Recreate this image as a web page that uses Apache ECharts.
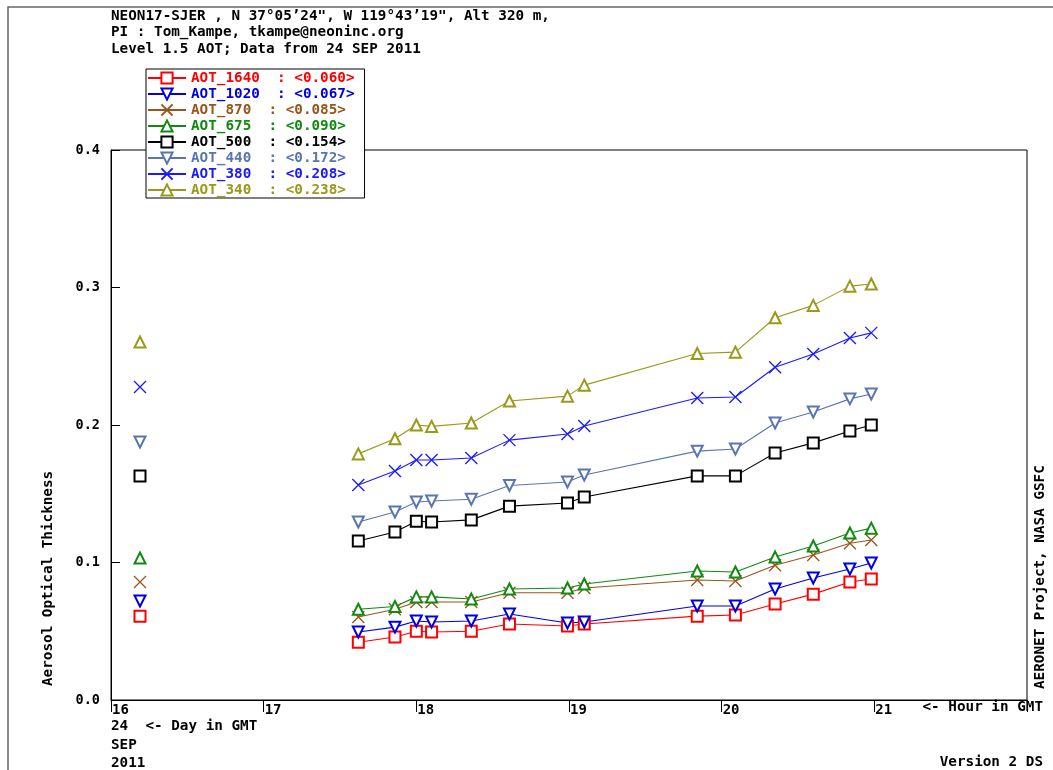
<!DOCTYPE html>
<html>
<head>
<meta charset="utf-8">
<script src="https://cdn.jsdelivr.net/npm/echarts@6/dist/echarts.min.js"></script>
<style>
html,body{margin:0;padding:0;background:#fff;}
#chart{width:1053px;height:770px;}
</style>
</head>
<body>
<div id="chart"></div>
<script>
// ---- data ----
const hours = [16.19, 17.62, 17.86, 18.00, 18.10, 18.36, 18.61, 18.99, 19.10, 19.84, 20.09, 20.35, 20.60, 20.84, 20.98];
const BREAK_AFTER = 0; // the first measurement is not joined to the rest

const seriesNames = ['AOT_1640', 'AOT_1020', 'AOT_870', 'AOT_675', 'AOT_500', 'AOT_440', 'AOT_380', 'AOT_340'];
const seriesMeans = ['0.060', '0.067', '0.085', '0.090', '0.154', '0.172', '0.208', '0.238'];

const aot1640 = [0.061, 0.042, 0.0458, 0.050, 0.0495, 0.050, 0.0553, 0.0538, 0.0553, 0.061, 0.0618, 0.0698, 0.077, 0.0858, 0.088];
const aot1020 = [0.072, 0.0495, 0.053, 0.0575, 0.0567, 0.0575, 0.0625, 0.056, 0.0567, 0.0684, 0.0684, 0.0807, 0.0887, 0.0953, 0.0996];
const aot870  = [0.0858, 0.0604, 0.066, 0.0713, 0.0713, 0.0713, 0.078, 0.078, 0.0815, 0.0873, 0.0866, 0.098, 0.1055, 0.114, 0.1164];
const aot675  = [0.1033, 0.066, 0.068, 0.075, 0.075, 0.0735, 0.0807, 0.0815, 0.0844, 0.0938, 0.0931, 0.104, 0.112, 0.1215, 0.125];
const aot500  = [0.163, 0.1156, 0.1222, 0.130, 0.1295, 0.131, 0.141, 0.1433, 0.1476, 0.163, 0.163, 0.1796, 0.187, 0.1956, 0.200];
const aot440  = [0.1876, 0.1295, 0.1367, 0.144, 0.1447, 0.146, 0.156, 0.1585, 0.1636, 0.181, 0.1825, 0.2015, 0.2095, 0.219, 0.2225];
const aot380  = [0.2276, 0.1564, 0.1665, 0.1745, 0.1745, 0.176, 0.189, 0.1935, 0.1993, 0.2196, 0.2204, 0.242, 0.2516, 0.2633, 0.267];
const aot340  = [0.2604, 0.179, 0.190, 0.200, 0.199, 0.2015, 0.2175, 0.221, 0.229, 0.252, 0.253, 0.278, 0.287, 0.301, 0.3025];

const xTickLabels = ['16', '17', '18', '19', '20', '21'];
const yTickLabels = ['0.0', '0.1', '0.2', '0.3', '0.4'];

// ---- styles ----
const allValues = [aot1640, aot1020, aot870, aot675, aot500, aot440, aot380, aot340];
const colors = ['#ff0000', '#0000e0', '#99561c', '#108a10', '#000000', '#5a76ae', '#1a1aff', '#99991a'];
const X_PATH = 'path://M0 0L10 10M10 0L0 10';
const symbols = ['emptyRect', 'emptyTriangle', X_PATH, 'emptyTriangle', 'emptyRect', 'emptyTriangle', X_PATH, 'emptyTriangle'];
const rotates = [0, 180, 0, 0, 0, 180, 0, 0];
const sizes = [11, 11, 12, 11, 11, 11, 12, 11];
const FONT = "'DejaVu Sans Mono', monospace";

function buildData(vals) {
  const out = [];
  vals.forEach((v, i) => {
    out.push([hours[i], v]);
    if (i === BREAK_AFTER) out.push([hours[i] + 0.01, null]);
  });
  return out;
}

const series = seriesNames.map((name, k) => ({
  name: name,
  type: 'line',
  data: buildData(allValues[k]),
  connectNulls: false,
  symbol: symbols[k],
  symbolRotate: rotates[k],
  symbolSize: sizes[k],
  showAllSymbol: true,
  animation: false,
  lineStyle: { color: colors[k], width: 1.1 },
  itemStyle: { color: colors[k], borderColor: colors[k], borderWidth: 1.3 },
  emphasis: { disabled: true }
}));

const txt = (text, x, y, extra) => Object.assign({
  type: 'text', x: x, y: y, silent: true,
  style: Object.assign({ text: text, fill: '#000', font: 'bold 14.3px ' + FONT, textAlign: 'left', textVerticalAlign: 'middle' }, extra || {})
});

const option = {
  animation: false,
  backgroundColor: '#fff',
  grid: { left: 111, top: 150, right: 26, bottom: 70, show: true, borderColor: '#000', borderWidth: 1, backgroundColor: 'transparent' },
  xAxis: {
    type: 'value', min: 16, max: 22, interval: 1,
    axisLine: { show: true, lineStyle: { color: '#000', width: 1 } },
    axisTick: { show: true, inside: false, length: 12, lineStyle: { color: '#000' } },
    splitLine: { show: false },
    axisLabel: {
      formatter: v => { const i = Math.round(v) - 16; return i < xTickLabels.length ? xTickLabels[i] : ''; },
      align: 'left', verticalAlign: 'top', margin: 3, padding: [0, 0, 0, 1],
      color: '#000', fontFamily: FONT, fontWeight: 'bold', fontSize: 14
    }
  },
  yAxis: {
    type: 'value', min: 0, max: 0.4, interval: 0.1,
    axisLine: { show: true, lineStyle: { color: '#000', width: 1 } },
    axisTick: { show: true, inside: true, length: 9, lineStyle: { color: '#000' } },
    splitLine: { show: false },
    axisLabel: {
      formatter: v => yTickLabels[Math.round(v * 10)],
      margin: 11, color: '#000', fontFamily: FONT, fontWeight: 'bold', fontSize: 13.5
    }
  },
  legend: {
    left: 146, top: 69, orient: 'vertical',
    backgroundColor: '#fff', borderColor: '#000', borderWidth: 1,
    padding: [2, 10, 1, 1],
    itemWidth: 38, itemHeight: 14, itemGap: 2,
    selectedMode: false,
    data: seriesNames.map((n, k) => ({ name: n, textStyle: { color: colors[k] } })),
    formatter: name => { const k = seriesNames.indexOf(name); return name + '  : <' + seriesMeans[k] + '>'; },
    textStyle: { fontFamily: FONT, fontWeight: 'bold', fontSize: 14.3, lineHeight: 14 }
  },
  graphic: [
    { type: 'rect', silent: true, shape: { x: 8, y: 7, width: 1100, height: 800 }, style: { fill: 'none', stroke: '#666', lineWidth: 1.5 }, z: -10 },
    txt('NEON17-SJER , N 37°05’24", W 119°43’19", Alt 320 m,', 111, 16),
    txt('PI : Tom_Kampe, tkampe@neoninc.org', 111, 32.5),
    txt('Level 1.5 AOT; Data from 24 SEP 2011', 111, 49),
    txt('24  <- Day in GMT', 111, 726),
    txt('SEP', 111, 745),
    txt('2011', 111, 763),
    txt('<- Hour in GMT', 1043, 707, { textAlign: 'right' }),
    txt('Version 2 DS', 1043, 762, { textAlign: 'right' }),
    Object.assign(txt('Aerosol Optical Thickness', 48, 686), { rotation: Math.PI / 2 }),
    Object.assign(txt('AERONET Project, NASA GSFC', 1040, 689), { rotation: Math.PI / 2 })
  ],
  series: series
};

const chart = echarts.init(document.getElementById('chart'), null, { renderer: 'canvas' });
chart.setOption(option);
</script>
</body>
</html>
